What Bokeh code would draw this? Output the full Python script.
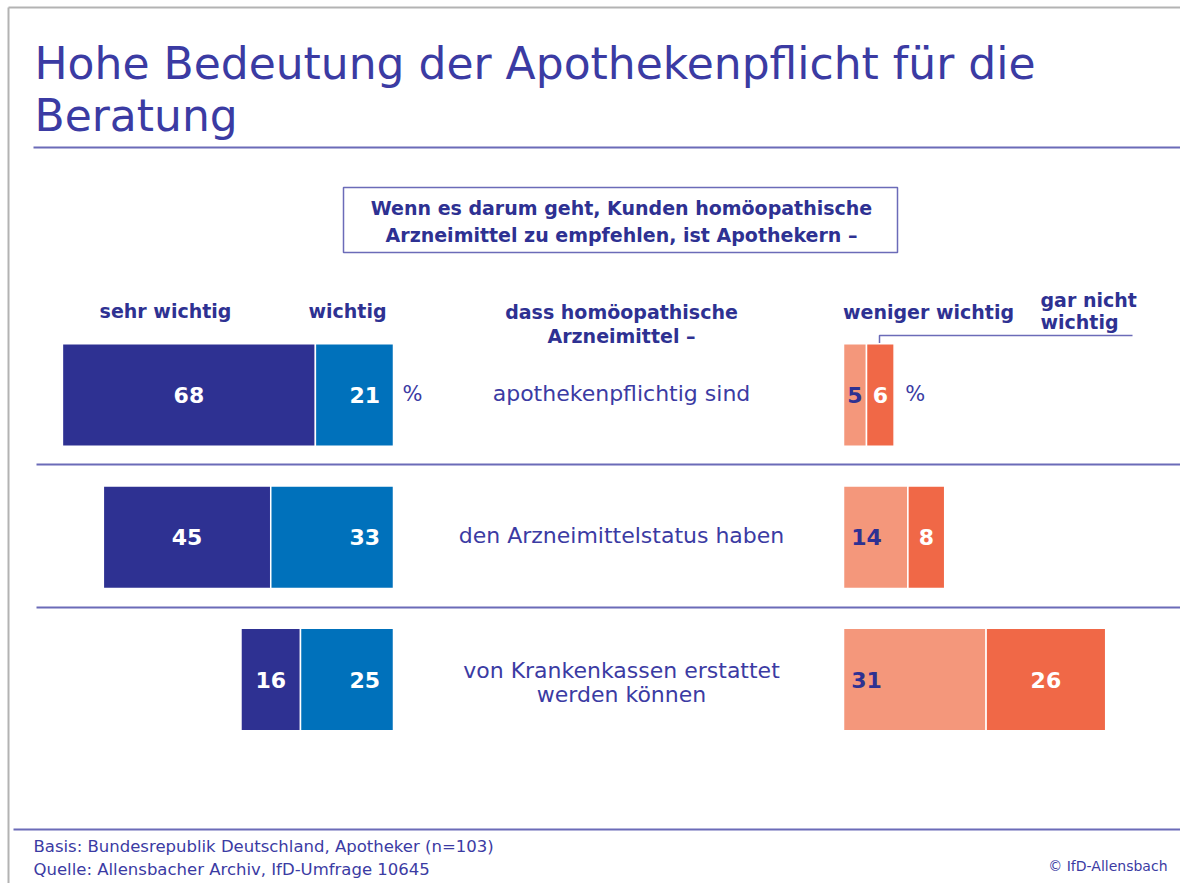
from bokeh.plotting import figure
from bokeh.models import Range1d, Label, ColumnDataSource
from bokeh.core.properties import value
from bokeh.embed import file_html
from bokeh.resources import INLINE

# ---------------- data ----------------
title_lines = ["Hohe Bedeutung der Apothekenpflicht für die", "Beratung"]
question_lines = ["Wenn es darum geht, Kunden homöopathische",
                  "Arzneimittel zu empfehlen, ist Apothekern –"]
stem_lines = ["dass homöopathische", "Arzneimittel –"]
statements = [["apothekenpflichtig sind"],
              ["den Arzneimittelstatus haben"],
              ["von Krankenkassen erstattet", "werden können"]]
rows = [0, 1, 2]
sehr_wichtig = [68, 45, 16]
wichtig = [21, 33, 25]
weniger_wichtig = [5, 14, 31]
gar_nicht_wichtig = [6, 8, 26]
footer_lines = ["Basis: Bundesrepublik Deutschland, Apotheker (n=103)",
                "Quelle: Allensbacher Archiv, IfD-Umfrage 10645"]
copyright_text = "© IfD-Allensbach"

# ---------------- style ----------------
FONT = "DejaVu Sans"
NAVY = "#2e3192"
TXT = "#3b3ba3"
RULE = "#6b6bb8"
C_SEHR = "#2e3192"
C_WICHTIG = "#0071bb"
C_WENIGER = "#f4977b"
C_GAR = "#f06847"

W, H = 1180, 883
X0, Y0 = 0, 0
# left (positive) scale: zero at px 393, 3.72 px per percent, growing leftwards
L_ZERO, L_SCALE = 393, 3.72
# right (negative) scale: zero at px 843, 4.6 px per percent
R_ZERO, R_SCALE = 843, 4.6
# rows: first row centre at px 394.5, 142.3 px per row
ROW0, ROW_STEP = 394.5, 142.3
BAR_H = 0.72

p = figure(width=W, height=H, output_backend="svg", toolbar_location=None,
           x_range=Range1d(X0, X0 + W), y_range=Range1d(Y0 + H, Y0),
           min_border=0, outline_line_color=None)
p.axis.visible = False
p.grid.visible = False
p.background_fill_color = "white"
p.border_fill_color = "white"

p.extra_x_ranges = {
    "L": Range1d(start=(L_ZERO - X0) / L_SCALE, end=(L_ZERO - (X0 + W)) / L_SCALE),
    "R": Range1d(start=(X0 - R_ZERO) / R_SCALE, end=(X0 + W - R_ZERO) / R_SCALE),
}
p.extra_y_ranges = {
    "row": Range1d(start=(Y0 + H - ROW0) / ROW_STEP, end=(Y0 - ROW0) / ROW_STEP),
}


def label(x, y, text, size, color=TXT, bold=False, align="left", baseline="middle",
          xr="default", yr="default"):
    p.add_layout(Label(x=x, y=y, text=text, text_font=FONT,
                       text_font_size=f"{size}px", text_color=color,
                       text_font_style="bold" if bold else "normal",
                       text_align=align, text_baseline=baseline,
                       x_range_name=xr, y_range_name=yr))


# frame of the slide
p.line([8, X0 + W], [7, 7], line_color="#b3b3b3", line_width=2)
p.line([8, 8], [7, Y0 + H], line_color="#b3b3b3", line_width=2)

# title
label(34, 63, title_lines[0], 44, color=TXT)
label(34, 115, title_lines[1], 44, color=TXT)
p.line([33, X0 + W], [147, 147], line_color=RULE, line_width=2)

# question box
p.quad(left=[343], right=[897], top=[187], bottom=[252], fill_color=None,
       line_color=RULE, line_width=1.5)
label(621, 207, question_lines[0], 19, color=NAVY, bold=True, align="center")
label(621, 234, question_lines[1], 19, color=NAVY, bold=True, align="center")

# column headers
label(165, 310, "sehr wichtig", 19, color=NAVY, bold=True, align="center")
label(347, 310, "wichtig", 19, color=NAVY, bold=True, align="center")
label(621, 311, stem_lines[0], 19, color=NAVY, bold=True, align="center")
label(621, 335, stem_lines[1], 19, color=NAVY, bold=True, align="center")
label(928, 311, "weniger wichtig", 19, color=NAVY, bold=True, align="center")
label(1040, 299, "gar nicht", 19, color=NAVY, bold=True)
label(1040, 321, "wichtig", 19, color=NAVY, bold=True)
p.line([879, 879, 1132], [358, 335, 335], line_color=RULE, line_width=1.5)

# row separators and footer rule
for yy in (464, 607):
    p.line([36, X0 + W], [yy, yy], line_color=RULE, line_width=2)
p.line([13, X0 + W], [829, 829], line_color=RULE, line_width=2)

# ---------------- bars ----------------
src = ColumnDataSource(dict(
    row=rows,
    sehr=sehr_wichtig, wichtig=wichtig,
    weniger=weniger_wichtig, gar=gar_nicht_wichtig,
    sehr_left=[w + s for w, s in zip(wichtig, sehr_wichtig)],
    sehr_mid=[w + s / 2 for w, s in zip(wichtig, sehr_wichtig)],
    wichtig_lab=[3.6] * 3,
    weniger_mid=[min(v / 2, 5) for v in weniger_wichtig],
    gar_right=[a + b for a, b in zip(weniger_wichtig, gar_nicht_wichtig)],
    gar_mid=[a + b / 2 for a, b in zip(weniger_wichtig, gar_nicht_wichtig)],
    sehr_txt=[str(v) for v in sehr_wichtig],
    wichtig_txt=[str(v) for v in wichtig],
    weniger_txt=[str(v) for v in weniger_wichtig],
    gar_txt=[str(v) for v in gar_nicht_wichtig],
))

p.hbar(y="row", left="sehr_left", right="wichtig", height=BAR_H, source=src,
       fill_color=C_SEHR, line_color="white", line_width=1.5,
       x_range_name="L", y_range_name="row")
p.hbar(y="row", left="wichtig", right=0, height=BAR_H, source=src,
       fill_color=C_WICHTIG, line_color="white", line_width=1.5,
       x_range_name="L", y_range_name="row")
p.hbar(y="row", left=0, right="weniger", height=BAR_H, source=src,
       fill_color=C_WENIGER, line_color="white", line_width=1.5,
       x_range_name="R", y_range_name="row")
p.hbar(y="row", left="weniger", right="gar_right", height=BAR_H, source=src,
       fill_color=C_GAR, line_color="white", line_width=1.5,
       x_range_name="R", y_range_name="row")

common = dict(text_font=value(FONT), text_font_size="22px", text_font_style="bold",
              text_baseline="middle", source=src, y_range_name="row")
p.text(x="sehr_mid", y="row", text="sehr_txt", text_color="white",
       text_align="center", x_range_name="L", **common)
p.text(x="wichtig_lab", y="row", text="wichtig_txt", text_color="white",
       text_align="right", x_range_name="L", **common)
p.text(x="weniger_mid", y="row", text="weniger_txt", text_color=NAVY,
       text_align="center", x_range_name="R", **common)
p.text(x="gar_mid", y="row", text="gar_txt", text_color="white",
       text_align="center", x_range_name="R", **common)

# percent signs on first row
label(-2.4, -1.5 / ROW_STEP, "%", 21, color=TXT, xr="L", yr="row")
label(gar_nicht_wichtig[0] + weniger_wichtig[0] + 2.4, -1.5 / ROW_STEP, "%", 21,
      color=TXT, xr="R", yr="row")

# statements
for r, lines in zip(rows, statements):
    n = len(lines)
    for i, t in enumerate(lines):
        off_px = (i - (n - 1) / 2) * 24 + (n - 1) * 5 - 2
        label(621, r + off_px / ROW_STEP, t, 22, color=TXT, align="center",
              xr="default", yr="row")

# footer
label(33, 846, footer_lines[0], 16.5, color=TXT)
label(33, 869, footer_lines[1], 16.5, color=TXT)
label(1167, 865, copyright_text, 14, color=TXT, align="right")

open("out.html", "w").write(file_html(p, INLINE))
